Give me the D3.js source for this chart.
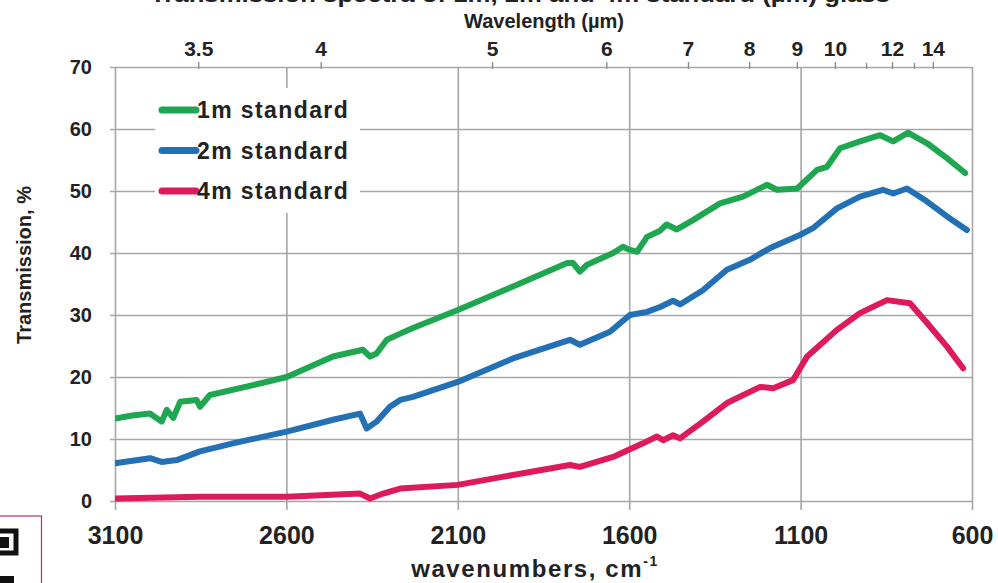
<!DOCTYPE html>
<html>
<head>
<meta charset="utf-8">
<script src="https://cdn.jsdelivr.net/npm/d3@7/dist/d3.min.js"></script>
<style>
  body { margin: 0; background: #fff; }
  text { font-family: "Liberation Sans", Arial, sans-serif; font-weight: bold; fill: #222; }
</style>
</head>
<body>
<svg width="998" height="583"></svg>
<script>
// transmission of standard glass
// each point: [wavenumber cm-1, transmission %]

var std1m = [[3100,13.3],[3050,13.8],[2998,14.1],[2964,12.8],[2949,14.7],[2930,13.4],[2910,16.0],[2862,16.3],
    [2852,15.2],[2823,17.1],[2697,18.7],[2599,20.0],[2464,23.3],[2377,24.4],[2356,23.3],[2337,23.8],[2307,26.0],
    [2268,27.0],[2231,27.9],[2100,30.8],[1939,34.6],[1781,38.4],[1764,38.4],[1744,37.0],[1723,38.1],[1647,40.0],
    [1618,41.0],[1598,40.5],[1577,40.2],[1548,42.6],[1510,43.6],[1491,44.6],[1461,43.8],[1414,45.3],[1335,48.0],
    [1268,49.1],[1198,51.0],[1169,50.2],[1110,50.4],[1052,53.4],[1023,53.9],[985,56.9],[927,58.0],[868,59.0],
    [830,58.0],[787,59.4],[731,57.7],[673,55.3],[620,52.9]];

var std2m = [[3100,6.1],[2998,6.9],[2964,6.3],[2920,6.6],[2852,8.0],[2756,9.3],[2599,11.2],[2464,13.1],[2385,14.1],
    [2366,11.7],[2337,12.8],[2298,15.2],[2268,16.3],[2231,16.8],[2100,19.2],[1939,23.0],[1773,26.0],[1744,25.2],
    [1656,27.3],[1598,30.0],[1548,30.5],[1510,31.3],[1472,32.3],[1452,31.7],[1385,34.0],[1315,37.3],[1248,38.9],
    [1189,40.8],[1102,42.9],[1064,44.0],[994,47.2],[927,49.1],[860,50.2],[830,49.6],[790,50.4],[731,48.3],
    [673,45.9],[615,43.7]];

var std4m = [[3100,0.4],[2852,0.7],[2599,0.7],[2385,1.2],[2356,0.4],[2318,1.2],[2268,2.0],[2100,2.6],[1939,4.2],
    [1773,5.8],[1744,5.5],[1647,7.1],[1560,9.3],[1519,10.4],[1501,9.8],[1472,10.6],[1452,10.1],[1385,12.8],
    [1315,15.8],[1218,18.4],[1180,18.2],[1122,19.5],[1081,23.3],[994,27.6],[927,30.3],[848,32.4],[781,31.9],
    [731,28.7],[673,24.9],[626,21.4]];

var seriesNames = ['1m standard', '2m standard', '4m standard'];
var colors = ['#1fa650', '#2470b5', '#dc1a5c'];

var wnTicks = [3100, 2600, 2100, 1600, 1100, 600];
var yTicks = [0, 10, 20, 30, 40, 50, 60, 70];
var lambdaMajor = [3.5, 4, 5, 6, 7, 8, 9, 10, 12, 14];
var lambdaMinor = [11, 13];

var svg = d3.select('svg');

// plot box (plotTop, not top: window.top is taken)
var plotLeft = 115, plotRight = 972, plotTop = 67, plotBottom = 501;

var x = d3.scaleLinear().domain([3100, 600]).range([plotLeft, plotRight]);
var y = d3.scaleLinear().domain([0, 70]).range([plotBottom, plotTop]);

// title, mostly cut off by the top edge like in the source image
svg.append('text')
    .attr('x', 520).attr('y', 2)
    .attr('text-anchor', 'middle')
    .attr('textLength', 740).attr('lengthAdjust', 'spacingAndGlyphs')
    .style('font-size', '22px')
    .text('Transmission spectra of 1m, 2m and 4m standard (\u00b5m) glass');

// horizontal grid + y labels
var yAxis = svg.append('g')
    .attr('transform', 'translate(' + (plotLeft - 5) + ',0)')
    .call(d3.axisLeft(y).tickValues(yTicks).tickSize(-(plotRight - plotLeft + 5)).tickPadding(18));
yAxis.select('.domain').remove();
yAxis.selectAll('line').attr('stroke', '#a6a6a6').attr('stroke-width', 1.6);
yAxis.selectAll('text').style('font-size', '20px').attr('fill', '#222');

// vertical grid + x labels
var xAxis = svg.append('g')
    .attr('transform', 'translate(0,' + (plotBottom + 9) + ')')
    .call(d3.axisBottom(x).tickValues(wnTicks).tickFormat(d3.format('d'))
        .tickSize(-(plotBottom + 9 - plotTop)).tickPadding(16));
xAxis.select('.domain').remove();
xAxis.selectAll('line').attr('stroke', '#a6a6a6').attr('stroke-width', 1.6);
xAxis.selectAll('text').style('font-size', '25px').attr('fill', '#222');

// top wavelength axis, placed through the wavenumber scale
var topAxis = svg.append('g')
    .attr('transform', 'translate(0,' + (plotTop + 2) + ')')
    .call(d3.axisTop(x)
        .tickValues(lambdaMajor.map(function (l) { return 10000 / l; }))
        .tickFormat(function (d, i) { return lambdaMajor[i]; })
        .tickSize(7).tickPadding(6));
topAxis.select('.domain').remove();
topAxis.selectAll('line').attr('stroke', '#888').attr('stroke-width', 1.3);
topAxis.selectAll('text').style('font-size', '21px').attr('fill', '#222');

var minorAxis = svg.append('g')
    .attr('transform', 'translate(0,' + (plotTop + 2) + ')')
    .call(d3.axisTop(x)
        .tickValues(lambdaMinor.map(function (l) { return 10000 / l; }))
        .tickFormat('').tickSize(6));
minorAxis.select('.domain').remove();
minorAxis.selectAll('line').attr('stroke', '#888').attr('stroke-width', 1.3);

svg.append('text')
    .attr('x', 544).attr('y', 28)
    .attr('text-anchor', 'middle')
    .attr('textLength', 160).attr('lengthAdjust', 'spacingAndGlyphs')
    .style('font-size', '20px')
    .text('Wavelength (\u00b5m)');

// legend box hides the grid under it
svg.append('rect')
    .attr('x', 155).attr('y', 88).attr('width', 205).attr('height', 125)
    .attr('fill', '#fff');

// curves
svg.append('clipPath').attr('id', 'plotclip')
    .append('rect').attr('x', plotLeft).attr('y', plotTop - 5)
    .attr('width', plotRight - plotLeft + 5).attr('height', plotBottom - plotTop + 10);

var line = d3.line()
    .x(function (d) { return x(d[0]); })
    .y(function (d) { return y(d[1]); });

var curves = svg.append('g').attr('clip-path', 'url(#plotclip)');
[std1m, std2m, std4m].forEach(function (s, i) {
    curves.append('path')
        .datum(s)
        .attr('d', line)
        .attr('fill', 'none')
        .attr('stroke', colors[i])
        .attr('stroke-width', 6)
        .attr('stroke-linejoin', 'round')
        .attr('stroke-linecap', 'round');
});

// legend
var legend = svg.append('g');
seriesNames.forEach(function (name, i) {
    var ly = 110 + i * 40.5;
    legend.append('line')
        .attr('x1', 162).attr('x2', 196)
        .attr('y1', ly).attr('y2', ly)
        .attr('stroke', colors[i]).attr('stroke-width', 7)
        .attr('stroke-linecap', 'round');
    legend.append('text')
        .attr('x', 197).attr('y', ly + 8)
        .style('font-size', '23px')
        .style('letter-spacing', '1.4px')
        .attr('fill', '#333')
        .text(name);
});

// axis titles
svg.append('text')
    .attr('transform', 'translate(31,265) rotate(-90)')
    .attr('text-anchor', 'middle')
    .style('font-size', '20px')
    .text('Transmission, %');

var xt = svg.append('text')
    .attr('x', 535).attr('y', 577)
    .attr('text-anchor', 'middle')
    .style('font-size', '24px')
    .style('letter-spacing', '1.6px');
xt.append('tspan').text('wavenumbers, cm');
xt.append('tspan').attr('dy', -11).style('font-size', '14px').text('-1');

// corner of the code stamp bottom left
var stamp = svg.append('g');
stamp.append('rect').attr('x', -2).attr('y', 516).attr('width', 43.5).attr('height', 72)
    .attr('fill', 'none').attr('stroke', '#a3327f').attr('stroke-width', 1.2);
stamp.append('rect').attr('x', -6).attr('y', 531).attr('width', 22).attr('height', 22)
    .attr('fill', 'none').attr('stroke', '#111').attr('stroke-width', 5);
stamp.append('rect').attr('x', -2).attr('y', 537).attr('width', 11).attr('height', 11).attr('fill', '#111');
stamp.append('rect').attr('x', 0).attr('y', 576).attr('width', 14).attr('height', 8).attr('fill', '#111');
</script>
</body>
</html>
